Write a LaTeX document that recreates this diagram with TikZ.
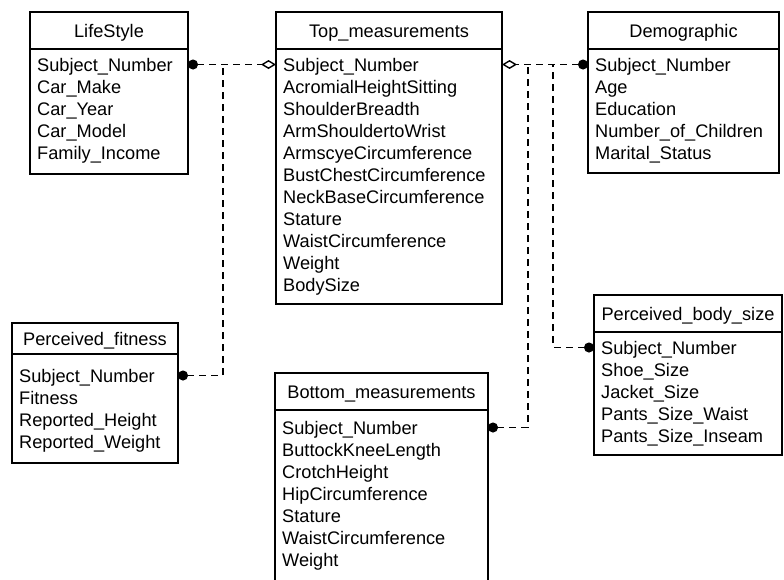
\documentclass[tikz,border=0pt]{standalone}
\usepackage{fontspec}
\setmainfont{Liberation Sans}
\usetikzlibrary{arrows.meta,calc}
\newcommand{\entfnt}{\fontsize{18.2}{22}\selectfont}
\begin{document}
\begin{tikzpicture}[x=1pt,y=-1pt,
  ent/.style={draw, line width=1.5pt, anchor=north west, inner sep=0pt, outer sep=0pt},
  hdr/.style={ent, font=\entfnt, text height=15pt, text depth=2pt},
  row/.style={anchor=base west, inner sep=0pt, font=\entfnt},
  rel/.style={line width=1.4pt, dash pattern=on 7pt off 5pt},
  dottip/.style={{Circle[length=10pt]}-},
  dotdia/.style={{Circle[length=10pt]}-{Diamond[open,length=15pt,width=9pt,line width=1.4pt]}}
]
\clip (0,0) rectangle (784,579);
% LifeStyle
\node[hdr, minimum width=158pt, minimum height=37pt] (lsh) at (30,12) {LifeStyle};
\node[ent, minimum width=158pt, minimum height=125pt] (lsb) at (30,49) {};
\foreach \t [count=\i] in {Subject\_Number,Car\_Make,Car\_Year,Car\_Model,Family\_Income}
  \node[row] (ls\i) at (37,49+22*\i) {\t};
% Top_measurements
\node[hdr, minimum width=226pt, minimum height=37pt] (tmh) at (276,12) {Top\_measurements};
\node[ent, minimum width=226pt, minimum height=255pt] (tmb) at (276,49) {};
\foreach \t [count=\i] in {Subject\_Number,AcromialHeightSitting,ShoulderBreadth,ArmShouldertoWrist,ArmscyeCircumference,BustChestCircumference,NeckBaseCircumference,Stature,WaistCircumference,Weight,BodySize}
  \node[row] (tm\i) at (283,49+22*\i) {\t};
% Demographic
\node[hdr, minimum width=191pt, minimum height=37pt] (dmh) at (588,12) {Demographic};
\node[ent, minimum width=191pt, minimum height=124pt] (dmb) at (588,49) {};
\foreach \t [count=\i] in {Subject\_Number,Age,Education,Number\_of\_Children,Marital\_Status}
  \node[row] (dm\i) at (595,49+22*\i) {\t};
% Perceived_fitness
\node[hdr, minimum width=166pt, minimum height=31pt] (pfh) at (12,323) {Perceived\_fitness};
\node[ent, minimum width=166pt, minimum height=109pt] (pfb) at (12,354) {};
\foreach \t [count=\i] in {Subject\_Number,Fitness,Reported\_Height,Reported\_Weight}
  \node[row] (pf\i) at (19,360+22*\i) {\t};
% Bottom_measurements
\node[hdr, minimum width=213pt, minimum height=37pt] (bmh) at (275,373) {Bottom\_measurements};
\node[ent, minimum width=213pt, minimum height=230pt] (bmb) at (275,410) {};
\foreach \t [count=\i] in {Subject\_Number,ButtockKneeLength,CrotchHeight,HipCircumference,Stature,WaistCircumference,Weight}
  \node[row] (bm\i) at (282,412+22*\i) {\t};
% Perceived_body_size
\node[hdr, minimum width=188pt, minimum height=37pt] (pbh) at (594,295) {Perceived\_body\_size};
\node[ent, minimum width=188pt, minimum height=123pt] (pbb) at (594,332) {};
\foreach \t [count=\i] in {Subject\_Number,Shoe\_Size,Jacket\_Size,Pants\_Size\_Waist,Pants\_Size\_Inseam}
  \node[row] (pb\i) at (601,332+22*\i) {\t};
% junctions
\coordinate (jl) at (223,64.5);
\coordinate (jb) at (528,64.5);
\coordinate (jp) at (553,64.5);
% connectors
\draw[rel, dotdia] ($(lsb.east |- ls1.base)+(0,-6.5)$) -- ($(tmb.west |- tm1.base)+(0,-6.5)$);
\draw[rel, dottip] ($(pfb.east |- pf1.base)+(0,-6.5)$) -| (jl);
\draw[rel, dotdia] ($(dmb.west |- dm1.base)+(0,-6.5)$) -- ($(tmb.east |- tm1.base)+(0,-6.5)$);
\draw[rel, dottip] ($(bmb.east |- bm1.base)+(0,-6.5)$) -| (jb);
\draw[rel, dottip] ($(pbb.west |- pb1.base)+(0,-6.5)$) -| (jp);
\end{tikzpicture}
\end{document}
